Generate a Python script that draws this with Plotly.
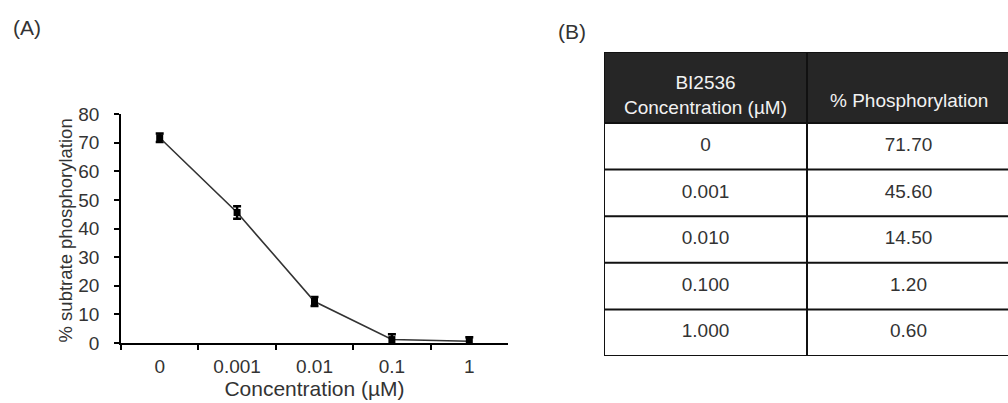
import plotly.graph_objects as go

# ---- data ----
conc_labels = ["0", "0.001", "0.01", "0.1", "1"]
phospho = [71.7, 45.6, 14.5, 1.2, 0.6]
phospho_err = [1.5, 2.2, 1.6, 1.9, 1.4]

table_conc = ["0", "0.001", "0.010", "0.100", "1.000"]
table_phospho = ["71.70", "45.60", "14.50", "1.20", "0.60"]
table_header = ["BI2536<br>Concentration (µM)", "% Phosphorylation"]

y_ticks = [0, 10, 20, 30, 40, 50, 60, 70, 80]

FONT = "Arial, Liberation Sans, sans-serif"
TXT = "#333333"
W, H = 1008, 403

# table geometry (pixels)
T_LEFT, T_TOP, T_BOTTOM = 604, 52, 356
COL_W = 203
HDR_PX = 71
n_rows = len(table_conc)
ROW_PX = (T_BOTTOM - T_TOP - HDR_PX) / n_rows
hdr = HDR_PX / ROW_PX  # header height in row units

fig = go.Figure()

# ---- panel A: dose-response line ----
fig.add_trace(go.Scatter(
    x=conc_labels, y=phospho,
    mode="lines+markers",
    line=dict(color="#333333", width=1.6),
    marker=dict(symbol="square", size=7, color="#000000"),
    error_y=dict(type="data", array=phospho_err, visible=True,
                 color="#000000", thickness=2.5, width=4),
    showlegend=False, cliponaxis=False, hoverinfo="x+y",
))

# ---- panel B: table drawn on its own axes ----
n_cols = 2
shapes = []
# header fill
shapes.append(dict(type="rect", xref="x2", yref="y2", x0=0, x1=n_cols, y0=-hdr, y1=0,
                   fillcolor="#262626", line=dict(width=0), layer="below"))
# horizontal rules
for yv in [-hdr] + list(range(n_rows + 1)):
    shapes.append(dict(type="line", xref="x2", yref="y2", x0=0, x1=n_cols, y0=yv, y1=yv,
                       line=dict(color="#111111", width=2)))
# vertical rules
for xv in range(n_cols + 1):
    shapes.append(dict(type="line", xref="x2", yref="y2", x0=xv, x1=xv, y0=-hdr, y1=n_rows,
                       line=dict(color="#111111", width=2)))

row_centers = [i + 0.5 for i in range(n_rows)]
for ci, col_vals in enumerate([table_conc, table_phospho]):
    fig.add_trace(go.Scatter(
        x=[ci + 0.5] * n_rows, y=row_centers, text=col_vals,
        mode="text", textposition="middle center",
        textfont=dict(family=FONT, size=19, color=TXT),
        xaxis="x2", yaxis="y2", showlegend=False, hoverinfo="skip",
    ))

# header labels (bottom-aligned like the original)
hdr_y = [-(28.5 / ROW_PX), -(23 / ROW_PX)]
for ci, (lbl, yv) in enumerate(zip(table_header, hdr_y)):
    fig.add_annotation(text=lbl, xref="x2", yref="y2", x=ci + 0.5, y=yv,
                       xanchor="center", yanchor="middle", align="center",
                       showarrow=False,
                       font=dict(family=FONT, size=19, color="#f2f2f2"))

fig.update_layout(
    xaxis2=dict(domain=[T_LEFT / W, 1.0], range=[0, (W - T_LEFT) / COL_W], anchor="y2",
                visible=False, fixedrange=True),
    yaxis2=dict(domain=[1 - T_BOTTOM / H, 1 - T_TOP / H], range=[n_rows, -hdr], anchor="x2",
                visible=False, fixedrange=True),
    shapes=shapes,
)

Y_TOP_PX, Y_BOT_PX = 114, 343
fig.update_layout(xaxis=dict(
    type="category",
    domain=[121 / W, 508 / W],
    range=[-0.5, 4.5],
    tickson="boundaries",
    ticks="outside", ticklen=5, tickwidth=1.5, tickcolor="#000000",
    showline=True, linecolor="#000000", linewidth=1.8,
    showgrid=False, zeroline=False, automargin=False,
    tickfont=dict(family=FONT, size=19, color=TXT),
    ticklabelstandoff=5,
    title=dict(text="Concentration (µM)", font=dict(family=FONT, size=21, color=TXT), standoff=3),
), yaxis=dict(
    domain=[1 - Y_BOT_PX / H, 1 - Y_TOP_PX / H],
    range=[0, 80],
    tickvals=y_ticks,
    ticks="outside", ticklen=5, tickwidth=1.5, tickcolor="#000000",
    showline=True, linecolor="#000000", linewidth=1.8,
    showgrid=False, zeroline=False, automargin=False,
    tickfont=dict(family=FONT, size=19, color=TXT),
    ticklabelstandoff=11,
))

# y-axis title placed snugly against the tick labels, as in the original
fig.add_annotation(text="% subtrate phosphorylation", xref="paper", yref="paper",
                   x=65 / W, y=1 - ((Y_TOP_PX + Y_BOT_PX) / 2 + 2) / H,
                   xanchor="center", yanchor="middle", textangle=-90, showarrow=False,
                   font=dict(family=FONT, size=18.5, color=TXT))

fig.add_annotation(text="(A)", xref="paper", yref="paper", x=11 / W, y=1 - 28 / H,
                   xanchor="left", yanchor="middle", showarrow=False,
                   font=dict(family=FONT, size=21, color=TXT))
fig.add_annotation(text="(B)", xref="paper", yref="paper", x=556 / W, y=1 - 32 / H,
                   xanchor="left", yanchor="middle", showarrow=False,
                   font=dict(family=FONT, size=21, color=TXT))

fig.update_layout(
    width=W, height=H,
    margin=dict(l=0, r=0, t=0, b=0),
    paper_bgcolor="#ffffff", plot_bgcolor="#ffffff",
    font=dict(family=FONT),
    showlegend=False,
)

fig.write_html("out.html")
